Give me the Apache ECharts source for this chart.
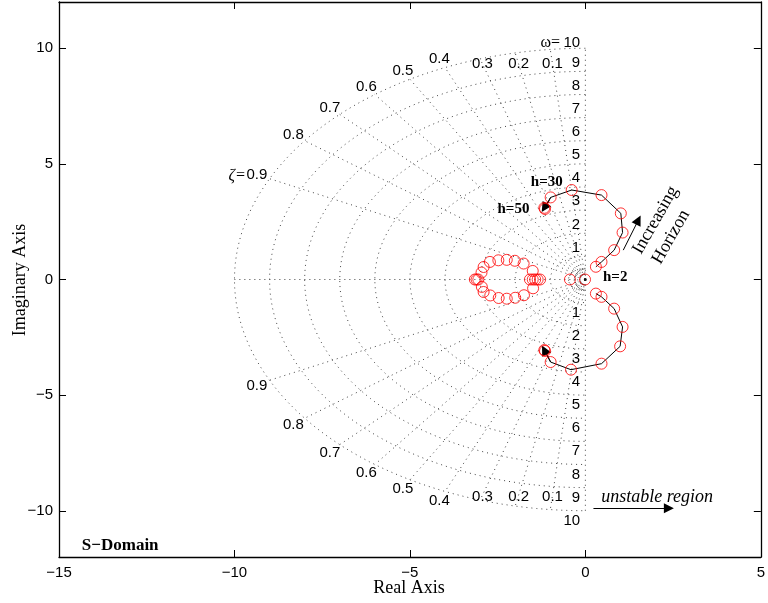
<!DOCTYPE html>
<html>
<head>
<meta charset="utf-8">
<script src="https://cdn.jsdelivr.net/npm/echarts@6/dist/echarts.min.js"></script>
<style>
html,body{margin:0;padding:0;background:#fff;}
#chart{width:768px;height:603px;}
</style>
</head>
<body>
<div id="chart"></div>
<script>
// ---- data ----
const xTicks = [-15, -10, -5, 0, 5];
const yTicks = [-10, -5, 0, 5, 10];
const zetaValues = [0.1, 0.2, 0.3, 0.4, 0.5, 0.6, 0.7, 0.8, 0.9];
const omegaValues = [1, 2, 3, 4, 5, 6, 7, 8, 9, 10];
const innerArcRadii = [0.22, 0.32, 0.48];

// root locus branch (upper), from h=2 to h=50
const locusUpper = [[0.30, 0.55], [0.46, 0.76], [0.82, 1.27], [1.06, 2.03], [1.01, 2.86],
  [0.46, 3.65], [-0.39, 3.87], [-0.99, 3.55], [-1.15, 3.05], [-1.17, 3.10]];
// root locus branch (lower)
const locusLower = [[0.30, -0.61], [0.46, -0.75], [0.82, -1.26], [1.06, -2.05], [0.99, -2.89],
  [0.46, -3.64], [-0.41, -3.90], [-0.99, -3.57], [-1.15, -3.09], [-1.17, -3.05]];
// other closed-loop poles (unconnected)
const otherPoles = [
  [-3.15, 0], [-3.10, 0], [-3.05, 0],
  [-2.96, 0.30], [-2.90, 0.54], [-2.72, 0.76], [-2.48, 0.83], [-2.24, 0.85], [-2.01, 0.81], [-1.76, 0.69], [-1.50, 0.37],
  [-2.95, -0.32], [-2.90, -0.54], [-2.71, -0.69], [-2.47, -0.80], [-2.24, -0.83], [-2.00, -0.79], [-1.75, -0.68], [-1.49, -0.38],
  [-1.58, 0], [-1.50, 0], [-1.43, 0], [-1.36, 0], [-1.29, 0],
  [-0.44, 0], [-0.01, 0]
];
const originMarker = [[0, 0]];

// annotations: [text, x, y]
const hLabels = [['h=2', 0.85, 0.11], ['h=30', -1.10, 4.22], ['h=50', -2.05, 3.03]];
const horizonArrow = [[1.08, 1.27], [1.51, 2.57]];
const unstableArrow = [[0.23, -9.89], [2.38, -9.89]];

// ---- styling constants ----
const SANS = '"Liberation Sans", Arial, Helvetica, sans-serif';
const SERIF = '"Liberation Serif", "Times New Roman", serif';
const minusFmt = v => String(v).replace('-', '\u2212');

// ---- build sgrid lines ----
function arc(r) {
  const pts = [];
  for (let i = 0; i <= 90; i++) {
    const t = Math.PI / 2 + Math.PI * i / 90;
    pts.push([r * Math.cos(t), r * Math.sin(t)]);
  }
  return pts;
}
const gridLines = [];
omegaValues.forEach(w => gridLines.push({ coords: arc(w) }));
const wMax = omegaValues[omegaValues.length - 1];
zetaValues.forEach(z => {
  const s = Math.sqrt(1 - z * z);
  gridLines.push({ coords: [[0, 0], [-wMax * z, wMax * s]] });
  gridLines.push({ coords: [[0, 0], [-wMax * z, -wMax * s]] });
});
gridLines.push({ coords: [[0, 0], [-wMax, 0]] });
gridLines.push({ coords: [[0, -wMax], [0, wMax]] });
const innerLines = innerArcRadii.map(r => ({ coords: arc(r) }));

const chart = echarts.init(document.getElementById('chart'), null, { renderer: 'canvas' });

const tickCommon = { show: true, inside: true, length: 7, lineStyle: { color: '#000', width: 1 } };
const lineCommon = { show: true, onZero: false, lineStyle: { color: '#000', width: 1.3 } };

chart.setOption({
  animation: false,
  backgroundColor: '#fff',
  grid: { left: 59, top: 2, width: 704, height: 555, containLabel: false },
  xAxis: [
    { type: 'value', min: -15, max: 5, interval: 5, position: 'bottom',
      axisLine: lineCommon, axisTick: tickCommon, splitLine: { show: false },
      axisLabel: { formatter: minusFmt, color: '#000', fontFamily: SANS, fontSize: 15, margin: 8 } },
    { type: 'value', min: -15, max: 5, interval: 5, position: 'top',
      axisLine: lineCommon, axisTick: tickCommon, splitLine: { show: false }, axisLabel: { show: false } }
  ],
  yAxis: [
    { type: 'value', min: -12, max: 12, position: 'left',
      axisLine: lineCommon, axisTick: Object.assign({ customValues: yTicks }, tickCommon), splitLine: { show: false },
      axisLabel: { customValues: yTicks, formatter: minusFmt, color: '#000', fontFamily: SANS, fontSize: 15, margin: 6 } },
    { type: 'value', min: -12, max: 12, position: 'right',
      axisLine: lineCommon, axisTick: Object.assign({ customValues: yTicks }, tickCommon), splitLine: { show: false },
      axisLabel: { show: false } }
  ],
  series: [
    { type: 'lines', coordinateSystem: 'cartesian2d', polyline: true, silent: true, z: 1,
      lineStyle: { color: '#444', width: 1, type: [1, 4], opacity: 1 }, data: gridLines },
    { type: 'lines', coordinateSystem: 'cartesian2d', polyline: true, silent: true, z: 1,
      lineStyle: { color: '#333', width: 1, type: [1, 1.5], opacity: 1 }, data: innerLines },
    { type: 'lines', coordinateSystem: 'cartesian2d', polyline: true, silent: true, z: 3,
      lineStyle: { color: '#000', width: 1, opacity: 1 },
      data: [{ coords: locusUpper.slice(0, -1) }, { coords: locusLower.slice(0, -1) }] },
    { type: 'lines', coordinateSystem: 'cartesian2d', silent: true, z: 3,
      symbol: ['none', 'triangle'], symbolSize: [8, 10],
      lineStyle: { color: '#000', width: 1, opacity: 1 },
      data: [
        { coords: [locusUpper[locusUpper.length - 3], locusUpper[locusUpper.length - 1]] },
        { coords: [locusLower[locusLower.length - 3], locusLower[locusLower.length - 1]] },
        { coords: horizonArrow },
        { coords: unstableArrow }
      ] },
    { type: 'scatter', symbol: 'circle', symbolSize: 11, z: 4, silent: true,
      itemStyle: { color: 'rgba(0,0,0,0)', borderColor: '#ff0000', borderWidth: 1 },
      data: locusUpper.concat(locusLower, otherPoles) },
    { type: 'scatter', symbol: 'circle', symbolSize: 3, z: 5, silent: true,
      itemStyle: { color: '#000' }, data: originMarker }
  ]
});

// ---- text annotations (positions via the chart's own scales) ----
const P = (x, y) => chart.convertToPixel({ xAxisIndex: 0, yAxisIndex: 0 }, [x, y]);
const g = [];
function txt(text, x, y, font, align, valign, rot, fill) {
  const p = P(x, y);
  g.push({ type: 'text', x: p[0], y: p[1], rotation: rot || 0, z: 10, silent: true,
    style: { text: text, font: font, textAlign: align || 'center', textVerticalAlign: valign || 'middle', fill: fill || '#000' } });
}
// omega labels
omegaValues.forEach(w => {
  txt(String(w), -0.15, w === wMax ? w + 0.24 : w + 0.38, '15px ' + SANS, 'right');
  txt(String(w), -0.15, -(w + 0.43), '15px ' + SANS, 'right');
});
// zeta labels
zetaValues.forEach(z => {
  const s = Math.sqrt(1 - z * z);
  let lx, ly;
  if (z <= 0.3) { ly = 9.32; lx = -ly * z / s; }
  else { lx = -10.4 * z; ly = 10.4 * s; }
  txt(String(z), lx, ly, '15px ' + SANS, 'center');
  txt(String(z), lx, -ly - 0.06, '15px ' + SANS, 'center');
});
// prefixes
{
  const z = 0.9, s = Math.sqrt(1 - z * z);
  txt('\u03B6=', -10.4 * z - 0.32, 10.4 * s - 0.05, 'italic 16px ' + SERIF, 'right');
  txt('\u03C9=', -0.72, 10.24, '16px ' + SERIF, 'right');
}
hLabels.forEach(h => txt(h[0], h[1], h[2], 'bold 15px ' + SERIF, 'center'));
txt('Increasing', 2.0, 2.57, '18px ' + SERIF, 'center', 'middle', 1.05);
txt('Horizon', 2.44, 1.84, '18px ' + SERIF, 'center', 'middle', 1.05);
txt('unstable region', 0.45, -9.42, 'italic 18px ' + SERIF, 'left');
txt('S\u2212Domain', -14.35, -11.5, 'bold 17px ' + SERIF, 'left');
g.push({ type: 'text', x: 409, y: 588, silent: true,
  style: { text: 'Real Axis', font: '18px ' + SERIF, textAlign: 'center', textVerticalAlign: 'middle', fill: '#000' } });
g.push({ type: 'text', x: 20, y: 280, rotation: Math.PI / 2, silent: true,
  style: { text: 'Imaginary Axis', font: '18px ' + SERIF, textAlign: 'center', textVerticalAlign: 'middle', fill: '#000' } });
chart.setOption({ graphic: g });
</script>
</body>
</html>
